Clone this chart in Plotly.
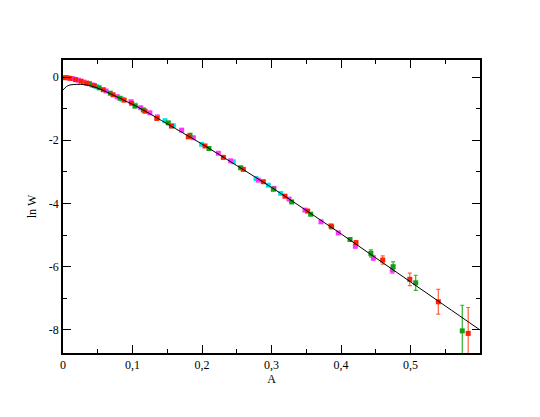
import plotly.graph_objects as go

# fitted curve
curve_A = [0.0, 0.005, 0.01, 0.02, 0.03, 0.04, 0.05, 0.06, 0.07, 0.08, 0.09, 0.10,
           0.12, 0.15, 0.20, 0.25, 0.30, 0.35, 0.40, 0.45, 0.50, 0.55, 0.60]
curve_lnW = [-0.41, -0.30, -0.25, -0.23, -0.24, -0.28, -0.35, -0.44, -0.55, -0.65, -0.76, -0.86,
             -1.10, -1.48, -2.12, -2.80, -3.49, -4.22, -4.96, -5.72, -6.48, -7.24, -8.00]

red_A = [0.003, 0.010, 0.018, 0.026, 0.034, 0.045, 0.058, 0.072, 0.088, 0.0988, 0.118, 0.135,
         0.156, 0.1803, 0.2043, 0.2307, 0.2594, 0.2882, 0.3194, 0.352, 0.3856, 0.4216, 0.460,
         0.499, 0.540, 0.583]
red_lnW = [-0.02, -0.04, -0.08, -0.13, -0.19, -0.27, -0.40, -0.56, -0.73, -0.83, -1.08, -1.31,
           -1.55, -1.89, -2.18, -2.54, -2.92, -3.31, -3.77, -4.24, -4.71, -5.24, -5.79,
           -6.40, -7.11, -8.11]
red_err = [0.005, 0.005, 0.005, 0.005, 0.005, 0.005, 0.005, 0.005, 0.005, 0.005, 0.005, 0.005,
           0.005, 0.01, 0.01, 0.01, 0.01, 0.015, 0.015, 0.02, 0.03, 0.07, 0.13,
           0.20, 0.39, 0.82]

green_A = [0.038, 0.052, 0.068, 0.082, 0.1036, 0.1156, 0.1515, 0.1827, 0.210, 0.2557, 0.3026,
           0.329, 0.3564, 0.3866, 0.413, 0.443, 0.475, 0.5075, 0.5745]
green_lnW = [-0.21, -0.34, -0.51, -0.67, -0.92, -1.04, -1.45, -1.84, -2.26, -2.87, -3.55,
             -3.95, -4.34, -4.74, -5.14, -5.58, -6.00, -6.51, -8.03]
green_err = [0.005, 0.005, 0.005, 0.005, 0.005, 0.005, 0.005, 0.01, 0.01, 0.01, 0.015,
             0.015, 0.02, 0.03, 0.05, 0.11, 0.15, 0.24, 0.81]

magenta_A = [0.006, 0.014, 0.022, 0.030, 0.042, 0.062, 0.078, 0.0978, 0.1118, 0.125, 0.1357,
             0.1708, 0.1875, 0.2235, 0.2413, 0.281, 0.3036, 0.3252, 0.3482, 0.3712, 0.3961,
             0.4206, 0.4465, 0.4738]
magenta_lnW = [-0.02, -0.05, -0.10, -0.16, -0.25, -0.44, -0.62, -0.78, -0.97, -1.13, -1.26,
               -1.68, -1.92, -2.41, -2.65, -3.26, -3.52, -3.86, -4.21, -4.58, -4.93,
               -5.35, -5.72, -6.11]
magenta_err = [0.005, 0.005, 0.005, 0.005, 0.005, 0.005, 0.005, 0.005, 0.005, 0.005, 0.005,
               0.01, 0.01, 0.01, 0.01, 0.015, 0.015, 0.015, 0.02, 0.02, 0.03,
               0.06, 0.08, 0.10]

cyan_A = [0.048, 0.085, 0.104, 0.1468, 0.1587, 0.1995, 0.245, 0.2777, 0.2954, 0.3132]
cyan_lnW = [-0.30, -0.70, -0.89, -1.38, -1.54, -2.13, -2.68, -3.21, -3.42, -3.68]
cyan_err = [0.005, 0.005, 0.005, 0.005, 0.005, 0.01, 0.01, 0.015, 0.015, 0.015]

x_tickvals = [0, 0.1, 0.2, 0.3, 0.4, 0.5]
x_ticktext = ["0", "0,1", "0,2", "0,3", "0,4", "0,5"]
y_tickvals = [0, -2, -4, -6, -8]
y_ticktext = ["0", "-2", "-4", "-6", "-8"]

fig = go.Figure()

series = [
    (cyan_A, cyan_lnW, cyan_err, "#00e5e5", "#40f0f0"),
    (magenta_A, magenta_lnW, magenta_err, "#ff33ff", "#ff66ff"),
    (green_A, green_lnW, green_err, "#10a010", "#30b030"),
    (red_A, red_lnW, red_err, "#ff2000", "#ff6040"),
]
for xs, ys, es, col, ecol in series:
    fig.add_trace(go.Scatter(
        x=xs, y=ys, mode="markers",
        marker=dict(symbol="square", size=5, color=col, line=dict(width=0)),
        error_y=dict(type="data", array=es, color=ecol, thickness=1.2, width=2),
        showlegend=False,
    ))

fig.add_trace(go.Scatter(x=curve_A, y=curve_lnW, mode="lines", line=dict(color="black", width=1),
                         line_shape="spline", showlegend=False))

font = dict(family="Liberation Serif", size=12, color="black")
fig.update_layout(
    width=540, height=417,
    margin=dict(l=55, r=68, t=52, b=72),
    paper_bgcolor="white", plot_bgcolor="white",
    font=font,
    xaxis=dict(range=[0, 0.6], tickvals=x_tickvals, ticktext=x_ticktext, automargin=False,
               ticks="inside", ticklen=8, tickwidth=1, tickcolor="black",
               showline=True, linecolor="black", linewidth=1.5, mirror="allticks",
               showgrid=False, zeroline=False,
               minor=dict(ticks="inside", ticklen=4, tickwidth=1, tickcolor="black",
                          tickvals=[0.05, 0.15, 0.25, 0.35, 0.45, 0.55], showgrid=False),
               title=dict(text="A", font=font, standoff=2)),
    yaxis=dict(range=[-8.73, 0.54], tickvals=y_tickvals, ticktext=y_ticktext, automargin=False,
               ticks="inside", ticklen=8, tickwidth=1, tickcolor="black",
               showline=True, linecolor="black", linewidth=1.5, mirror="allticks",
               showgrid=False, zeroline=False,
               minor=dict(ticks="inside", ticklen=4, tickwidth=1, tickcolor="black",
                          tickvals=[-1, -3, -5, -7], showgrid=False),
               title=dict(text="ln W", font=font, standoff=10)),
)

fig.write_html("out.html")
